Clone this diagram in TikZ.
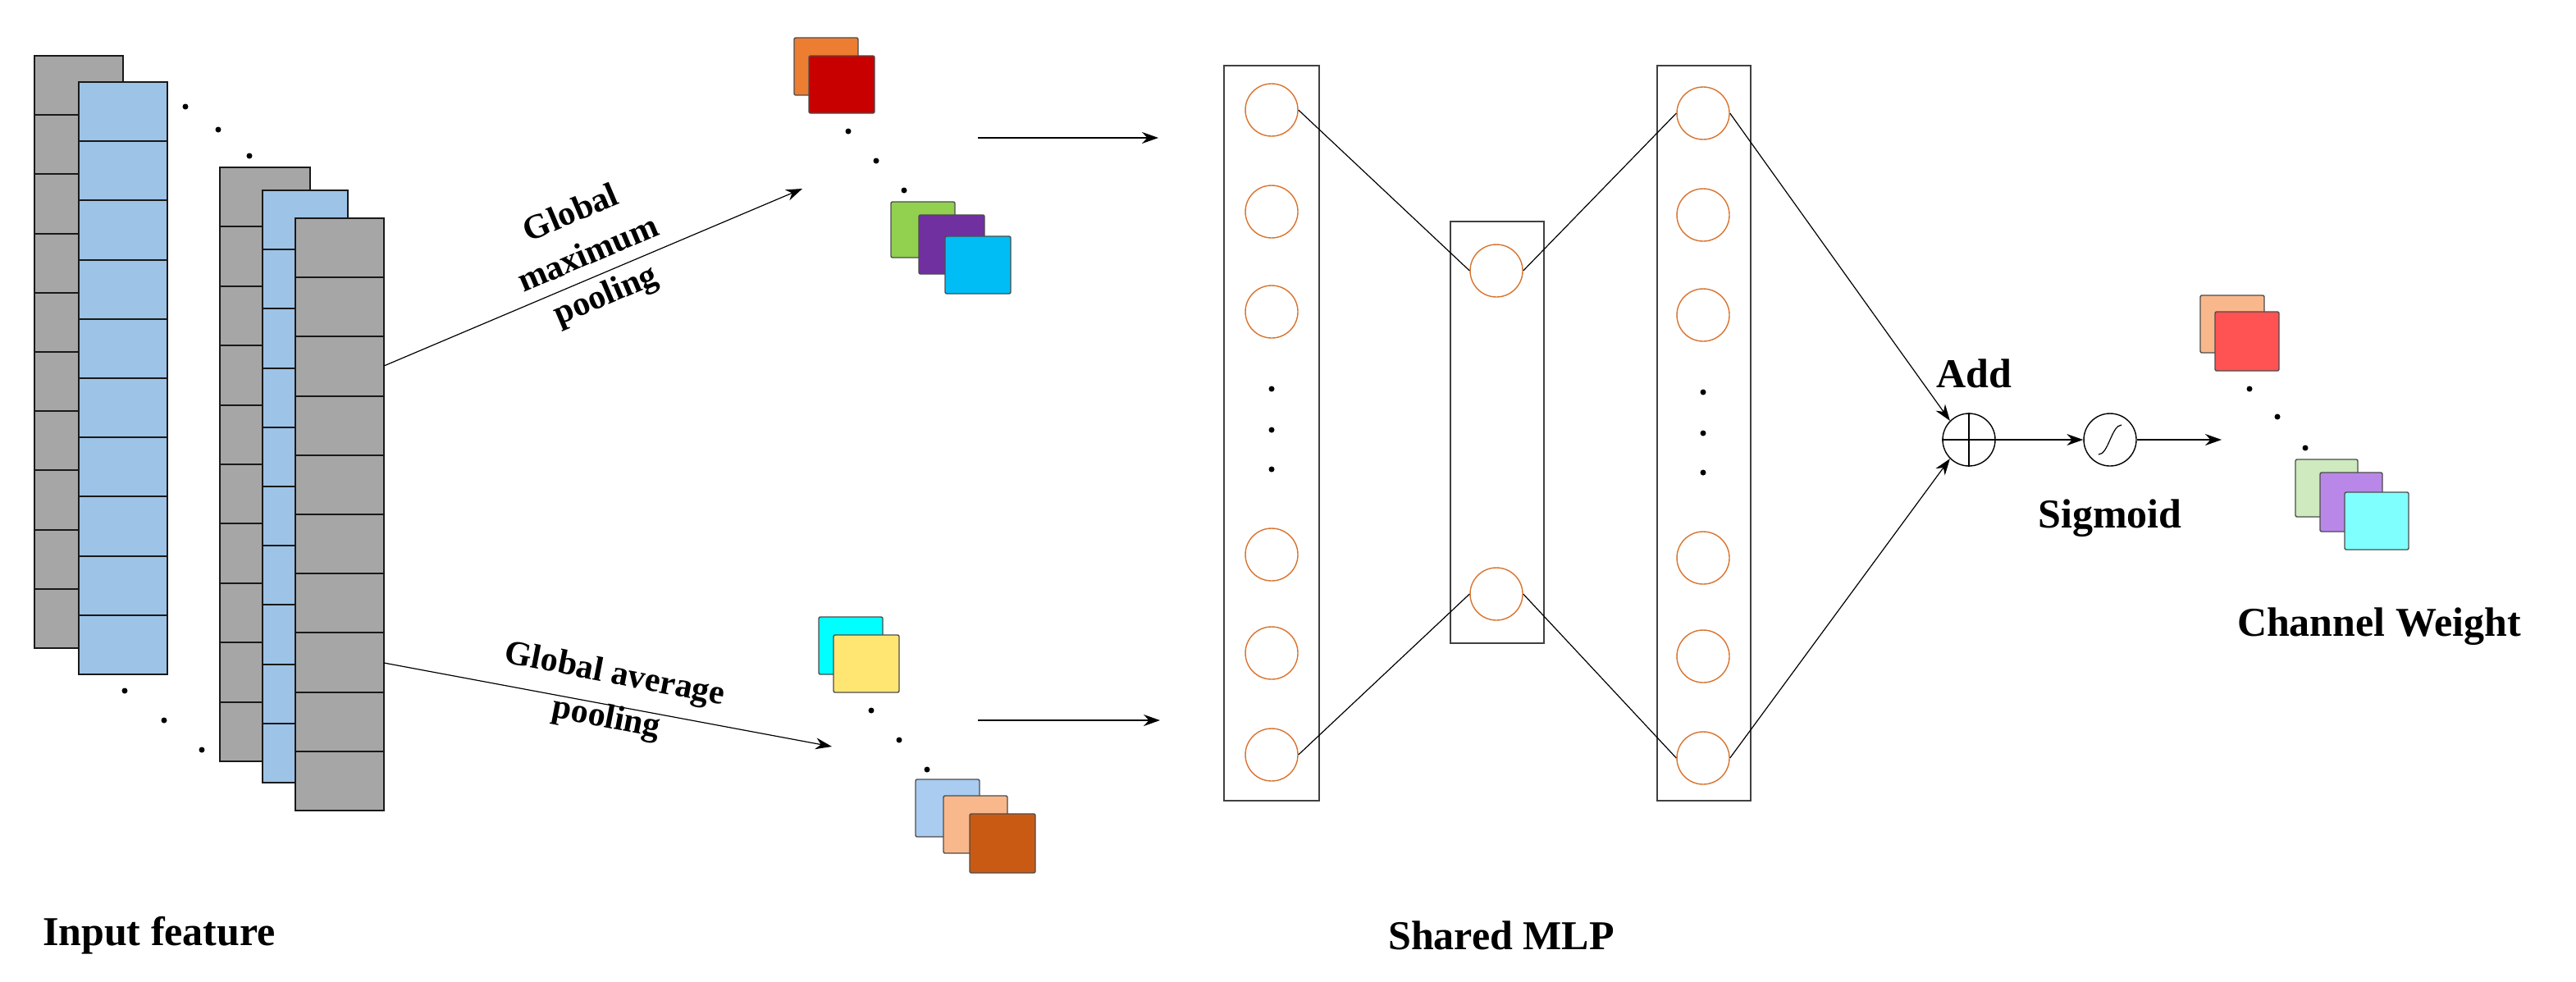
\documentclass[tikz,border=0pt]{standalone}
\usepackage{fontspec}
\setmainfont{Liberation Serif}
\usetikzlibrary{arrows.meta}
\definecolor{fgray}{HTML}{A6A6A6}
\definecolor{fblue}{HTML}{9DC3E6}
\definecolor{corange}{HTML}{D9732E}
\tikzset{
  seg/.style={draw=black!90, line width=1pt},
  arr/.style={-{Stealth[length=10pt,width=7pt]}, line width=0.6pt},
  box/.style={draw=black!75, line width=0.8pt},
  neuron/.style={circle, draw=corange, line width=0.7pt, minimum size=32pt, inner sep=0pt},
  op/.style={circle, draw=black, line width=0.7pt, minimum size=32pt, inner sep=0pt},
  sq/.style={draw=black!70, line width=0.7pt, rounded corners=1pt},
  dot/.style={circle, fill=black, inner sep=0pt, minimum size=3.5pt},
  lab/.style={font=\bfseries\fontsize{25}{27}\selectfont},
  alab/.style={font=\bfseries\fontsize{21}{27}\selectfont, align=center}
}
\newcommand{\fstack}[6]{%
  \foreach \i in {1,...,#6}{%
    \pgfmathsetmacro{\ya}{#3+(\i-1)*(#4-#3)/#6}%
    \pgfmathsetmacro{\yb}{#3+\i*(#4-#3)/#6}%
    \draw[seg, fill=#5] (#1,\ya) rectangle (#2,\yb);}}
\begin{document}
\begin{tikzpicture}[x=1pt,y=-1pt]
\useasboundingbox (0,0) rectangle (1570,598);
% input feature stacks
\fstack{21}{75}{34}{395}{fgray}{10}
\fstack{48}{102}{50}{411}{fblue}{10}
\fstack{134}{189}{102}{464}{fgray}{10}
\fstack{160}{212}{116}{477}{fblue}{10}
\fstack{180}{234}{133}{494}{fgray}{10}
\node[dot] (d1) at (113,65) {}; \node[dot] (d2) at (133,79) {}; \node[dot] (d3) at (152,95) {};
\node[dot] (d4) at (76,421) {}; \node[dot] (d5) at (100,439) {}; \node[dot] (d6) at (123,457) {};
\coordinate (s1) at (234,223);
\coordinate (s2) at (234,404);
\coordinate (t1) at (489,115);
\coordinate (t2) at (507,455);
\draw[arr] (s1) -- (t1);
\draw[arr] (s2) -- (t2);
\node[alab, rotate=23] (lmax) at (359,156) {Global\\maximum\\pooling};
\node[alab, rotate=-11] (lavg) at (372,425) {Global average\\pooling};
% pooled squares top
\draw[sq, fill={rgb,255:red,237;green,125;blue,49}] (484,23) rectangle (523,58);
\draw[sq, fill={rgb,255:red,200;green,0;blue,0}] (493,34) rectangle (533,69);
\node[dot] at (517,80) {}; \node[dot] at (534,98) {}; \node[dot] at (551,116) {};
\draw[sq, fill={rgb,255:red,146;green,208;blue,80}] (543,123) rectangle (582,157);
\draw[sq, fill={rgb,255:red,112;green,48;blue,160}] (560,131) rectangle (600,167);
\draw[sq, fill={rgb,255:red,0;green,190;blue,245}] (576,144) rectangle (616,179);
% pooled squares bottom
\draw[sq, fill={rgb,255:red,0;green,255;blue,255}] (499,376) rectangle (538,411);
\draw[sq, fill={rgb,255:red,255;green,230;blue,115}] (508,387) rectangle (548,422);
\node[dot] at (531,433) {}; \node[dot] at (548,451) {}; \node[dot] at (565,469) {};
\draw[sq, fill={rgb,255:red,169;green,204;blue,240}] (558,475) rectangle (597,510);
\draw[sq, fill={rgb,255:red,248;green,184;blue,139}] (575,485) rectangle (614,520);
\draw[sq, fill={rgb,255:red,200;green,90;blue,20}] (591,496) rectangle (631,532);
\coordinate (h1a) at (596,84); \coordinate (h1b) at (706,84);
\coordinate (h2a) at (596,439); \coordinate (h2b) at (707,439);
\draw[arr] (h1a) -- (h1b);
\draw[arr] (h2a) -- (h2b);
% MLP boxes
\draw[box] (746,40) rectangle (804,488);
\draw[box] (884,135) rectangle (941,392);
\draw[box] (1010,40) rectangle (1067,488);
\foreach \n/\y in {1/67,2/129,3/190,4/338,5/398,6/460}{
  \node[neuron] (l\n) at (775,\y) {};
  \node[neuron] (r\n) at (1038,\y+2) {};}
\node[neuron] (m1) at (912,165) {};
\node[neuron] (m2) at (912,362) {};
\foreach \y in {237,262,286}{\node[dot] at (775,\y) {}; \node[dot] at (1038,\y+2) {};}
\draw[line width=0.6pt] (l1.east) -- (m1.west);
\draw[line width=0.6pt] (m1.east) -- (r1.west);
\draw[line width=0.6pt] (l6.east) -- (m2.west);
\draw[line width=0.6pt] (m2.east) -- (r6.west);
% add & sigmoid
\node[op] (add) at (1200,268) {};
\draw[line width=0.7pt] (add.north) -- (add.south) (add.west) -- (add.east);
\node[lab, anchor=south] (addl) at (1203,240) {Add};
\node[op] (sig) at (1286,268) {};
\draw[line width=0.6pt] (1279,277) .. controls (1285,277) and (1287,259) .. (1293,259);
\node[lab] (sigl) at (1286,316) {Sigmoid};
\draw[arr] (r1.east) -- (add.north west);
\draw[arr] (r6.east) -- (add.south west);
\draw[arr] (add) -- (sig);
\coordinate (out) at (1354,268);
\draw[arr] (sig) -- (out);
% channel weight squares
\draw[sq, fill={rgb,255:red,248;green,184;blue,139}] (1341,180) rectangle (1380,215);
\draw[sq, fill={rgb,255:red,255;green,82;blue,82}] (1350,190) rectangle (1389,226);
\node[dot] at (1371,237) {}; \node[dot] at (1388,254) {}; \node[dot] at (1405,273) {};
\draw[sq, fill={rgb,255:red,206;green,234;blue,190}] (1399,280) rectangle (1437,315);
\draw[sq, fill={rgb,255:red,185;green,135;blue,232}] (1414,288) rectangle (1452,324);
\draw[sq, fill={rgb,255:red,128;green,255;blue,255}] (1429,300) rectangle (1468,335);
% labels
\node[lab] (cw) at (1450,382) {Channel Weight};
\node[lab] (smlp) at (915,570) {Shared MLP};
\node[lab] (inf) at (97,570) {Input feature};
\end{tikzpicture}
\end{document}
